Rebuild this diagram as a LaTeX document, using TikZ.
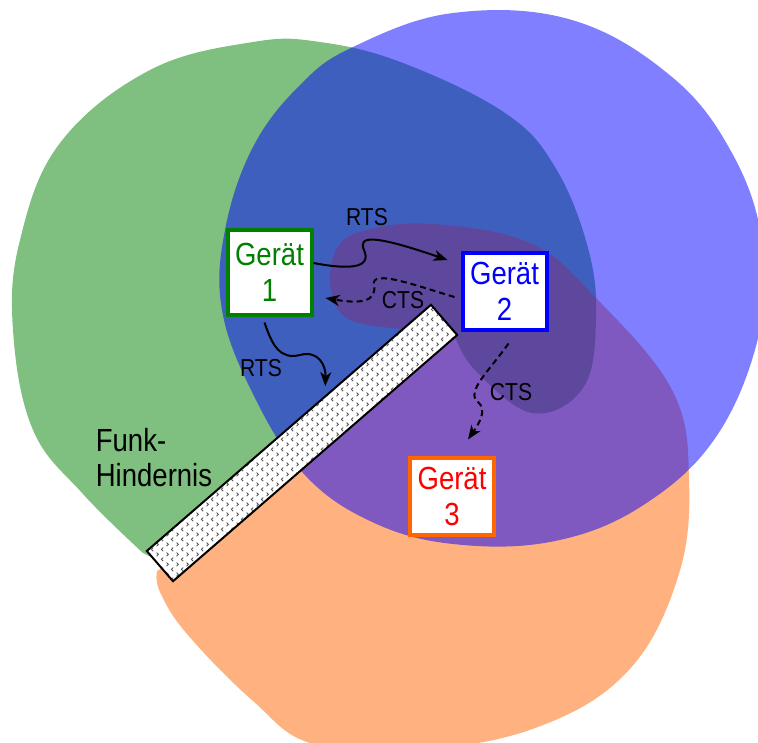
\documentclass[tikz,border=0pt]{standalone}
\usepackage{fontspec}
\setmainfont{Liberation Sans}[FakeStretch=0.86]
\usetikzlibrary{patterns,arrows.meta}

\definecolor{funkgruen}{RGB}{0,128,0}
\definecolor{funkblau}{RGB}{0,0,255}
\definecolor{funkorange}{RGB}{255,102,0}
\definecolor{funkrot}{RGB}{255,0,0}

\pgfdeclarepatternformonly{chevrons}{\pgfqpoint{-1pt}{-1pt}}{\pgfqpoint{11pt}{11pt}}{\pgfqpoint{10pt}{10pt}}{
  \pgfsetlinewidth{0.9pt}
  \pgfpathmoveto{\pgfqpoint{3.2pt}{0.8pt}}\pgfpathlineto{\pgfqpoint{1.4pt}{2.6pt}}\pgfpathlineto{\pgfqpoint{3.2pt}{4.4pt}}
  \pgfpathmoveto{\pgfqpoint{6.6pt}{5.8pt}}\pgfpathlineto{\pgfqpoint{8.4pt}{7.6pt}}\pgfpathlineto{\pgfqpoint{6.6pt}{9.4pt}}
  \pgfusepath{stroke}}

\begin{document}
\begin{tikzpicture}[x=1pt,y=-1pt,
    bereich/.style={fill opacity=0.5},
    geraet/.style={draw,line width=4pt,fill=white,minimum width=84pt,minimum height=77pt,
      align=center,inner sep=2pt,font=\fontsize{32}{36}\selectfont},
    signal/.style={line width=2pt,-{Stealth[length=14pt,width=11pt,inset=4pt]}},
    lbl/.style={font=\fontsize{24.5}{28}\selectfont}]
  \useasboundingbox (0,0) rectangle (758,742);
  \clip (0,0) rectangle (758,742);

  % Reichweiten
  \fill[bereich,funkgruen] plot[smooth,tension=0.65] coordinates {(455,336) (475,370) (532,413)
      (583,388) (596,320) (588,248) (555,167) (505,113) (403,63) (320,42) (253,42) (150,70)
      (60,143) (20,240) (13,330) (33,430) (83,494) (143,553)}
    -- (168,565) -- (440,325) -- cycle;
  \fill[bereich,funkorange] plot[smooth,tension=0.65] coordinates {(405,329) (350,320) (331,290)
      (337,248) (367,230) (433,224) (530,243) (595,297) (672,390) (689,480) (678,577) (628,671)
      (538,727) (420,750) (313,744) (253,701) (187,634) (160,592) (157,571)}
    -- (172,562) -- (425,338) -- cycle;
  \fill[bereich,funkblau] plot[smooth cycle,tension=0.65] coordinates {(353,47) (453,13) (572,20)
      (672,77) (732,153) (762,240) (760,330) (718,434) (645,504) (555,541) (453,544) (370,521)
      (303,473) (253,394) (222,310) (225,230) (253,147) (300,85)};

  % Hindernis
  \node[draw,line width=2pt,rotate=40.9,minimum width=376pt,minimum height=40pt,
    preaction={fill=white},pattern=chevrons,pattern color=black!65] (hindernis) at (302,443) {};
  \node[align=left,font=\fontsize{32}{35}\selectfont] (hindernislabel) at (154,458) {Funk-\\Hindernis};

  % Geraete
  \node[geraet,draw=funkgruen,text=funkgruen,minimum height=85pt] (g1) at (269.5,272) {Gerät\\1};
  \node[geraet,draw=funkblau,text=funkblau] (g2) at (504.5,291) {Gerät\\2};
  \node[geraet,draw=funkorange,text=funkrot] (g3) at (452,496) {Gerät\\3};

  % RTS / CTS
  \draw[signal] ([yshift=9pt]g1.east) .. controls (350,270) and (372,268) .. (364,250)
    .. controls (358,236) and (372,234) .. ([xshift=-13pt,yshift=31pt]g2.west);
  \draw[signal] ([xshift=-5pt,yshift=-6pt]g1.south) .. controls (272,345) and (280,360) .. (300,355)
    .. controls (318,350) and (326,365) .. ([xshift=37pt,yshift=41pt]hindernis.north);
  \draw[signal,dash pattern=on 6pt off 4pt] ([xshift=-6pt,yshift=-6pt]g2.west) .. controls (420,287) and (370,268) .. (374,285)
    .. controls (377,302) and (360,304) .. ([xshift=12pt,yshift=-26pt]g1.east);
  \draw[signal,dash pattern=on 6pt off 4pt] ([xshift=4pt,yshift=-12pt]g2.south) .. controls (490,370) and (465,392) .. (478,402)
    .. controls (488,410) and (478,425) .. ([xshift=16pt,yshift=16pt]g3.north);

  \node[lbl] (rts1) at (367,217) {RTS};
  \node[lbl] (rts2) at (261,368) {RTS};
  \node[lbl] (cts1) at (403,300) {CTS};
  \node[lbl] (cts2) at (511,392) {CTS};
\end{tikzpicture}
\end{document}
